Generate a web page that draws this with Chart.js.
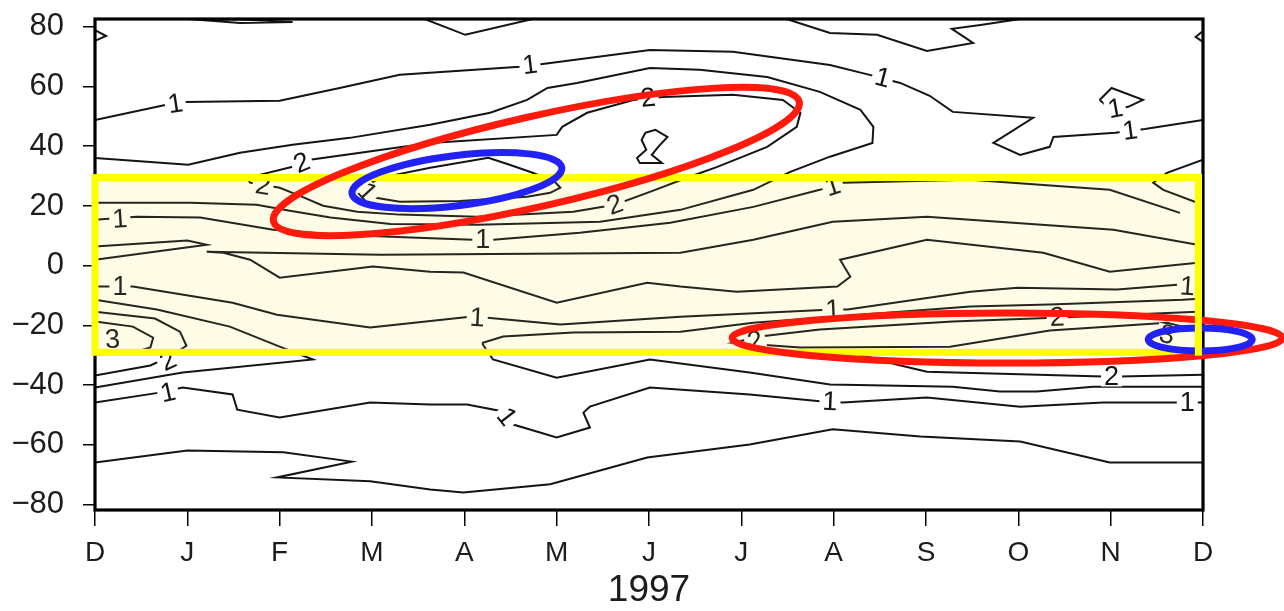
<!DOCTYPE html>
<html>
<head>
<meta charset="utf-8">
<script src="https://cdn.jsdelivr.net/npm/chart.js@4.4.1/dist/chart.umd.min.js"></script>
<style>
  html, body { margin: 0; background: #fff; }
  canvas { display: block; }
</style>
</head>
<body>
<canvas id="c" width="1284" height="611"></canvas>
<script>
// Zonal-mean contour section, Dec 1996 – Dec 1997, with tropical band and highlighted features

const MONTHS  = ['D', 'J', 'F', 'M', 'A', 'M', 'J', 'J', 'A', 'S', 'O', 'N', 'D'];
const X_TICKS = [0, 1, 2, 3, 4, 5, 6, 7, 8, 9, 10, 11, 12];
const Y_TICKS = [-80, -60, -40, -20, 0, 20, 40, 60, 80];
const X_TITLE = '1997';

// contour polylines: [month, latitude]
const edgeTop    = [[1.01,82.6],[1.57,81.3],[2.14,81.6],[1.57,82.4],[1.01,82.6]];
const notchW     = [[0,78.9],[0.12,76.9],[0,75.3]];
const topDip     = [[3.57,82.6],[4.01,77.3],[4.74,82.6]];
const topRight   = [[7.49,82.6],[7.96,77.9],[8.47,77.3],[9.01,71.9],[9.51,74.6],[9.28,79.3],[9.59,80.6],[10.02,82.6]];
const notchE     = [[12,78.6],[11.92,76.6],[12,74.9]];
const north1     = [[0,48.8],[0.76,53.8],[0.97,54.8],[2.00,55.2],[2.65,59.5],[3.30,63.9],[4.60,66.6],[4.87,67.6],
                    [6.01,72.2],[6.91,71.6],[7.96,67.2],[8.39,63.9],[8.72,61.2],[9.04,56.9],[9.29,51.5],[10.16,49.5],
                    [9.73,41.1],[10.02,37.1],[10.34,39.8],[10.38,43.1],[11.05,44.5],[11.37,45.8],[12,48.8]];
const northIsle  = [[10.88,55.5],[11.01,59.5],[11.35,55.5],[11.19,53.2],[11.01,52.2],[10.88,55.5]];
const northHook  = [[12,35.5],[11.61,31.1],[11.46,27.8],[11.57,25.4],[11.91,21.4],[12,21.0]];
const northRim   = [[0,36.1],[1.01,33.8],[1.57,37.8],[2.14,40.5],[2.76,42.8],[3.63,47.2],[4.28,51.2],[4.68,55.5],
                    [4.90,59.5],[5.22,61.2],[6.01,66.2],[6.55,65.6],[7.28,63.2],[7.85,58.2],[8.29,52.2],[8.43,46.5],
                    [8.42,41.1],[7.96,36.5],[7.53,31.4],[7.13,25.4],[6.34,18.7],[5.47,14.7],[4.14,13.7],[3.20,14.0],
                    [2.55,16.1],[2.11,18.4],[1.75,20.4],[1.03,21.1],[0,21.1]];
const north2     = [[1.65,29.4],[2.14,33.1],[2.33,35.5],[3.63,41.1],[5.00,43.8],[5.06,46.5],[5.33,51.2],[5.83,55.5],
                    [6.15,56.5],[6.91,57.2],[7.45,55.5],[7.64,51.2],[7.60,46.5],[7.28,39.8],[6.74,33.1],[6.44,29.8],
                    [6.01,24.7],[5.63,20.4],[5.18,18.1],[4.14,16.4],[3.30,17.1],[2.84,18.1],[2.47,20.1],[2.22,23.4],
                    [2.00,26.1],[1.68,27.8],[1.65,29.4]];
const northCore  = [[2.89,26.1],[3.09,29.4],[3.63,32.8],[4.26,36.1],[4.49,33.8],[4.74,31.1],[4.98,28.1],[5.04,26.1],
                    [4.93,24.4],[4.68,23.1],[3.95,21.7],[3.30,21.4],[2.98,23.1],[2.89,26.1]];
const hourglass  = [[5.96,44.5],[6.07,45.5],[6.20,43.1],[6.10,39.8],[6.03,37.1],[6.14,34.4],[5.90,34.4],[5.87,36.1],
                    [5.97,38.8],[5.92,42.1],[5.96,44.5]];
const band1N     = [[0,15.4],[0.45,16.4],[1.14,16.1],[1.93,12.0],[2.65,10.4],[3.20,9.7],[4.09,8.7],[4.31,8.7],
                    [5.25,11.0],[6.23,14.4],[7.13,19.7],[7.85,25.4],[8.10,27.8],[9.48,28.8],[10.99,25.4],[11.75,17.7]];
const wedgeW     = [[0,6.4],[1.00,8.4],[1.21,7.0],[0,2.0]];
const tongue     = [[12,6.7],[11.94,7.0],[11.03,12.0],[9.01,16.4],[7.99,14.7],[7.13,8.7],[6.34,4.3],[3.09,3.7],
                    [1.21,4.7],[1.39,4.3],[1.68,2.0],[2.00,-4.0],[3.01,-0.3],[3.63,-2.0],[3.99,-2.3],[5.00,-12.4],
                    [5.98,-5.7],[6.34,-7.0],[6.95,-8.7],[8.04,-7.0],[8.18,-3.7],[8.07,2.0],[9.01,8.7],[10.27,4.3],
                    [10.99,-2.0],[11.94,1.0],[12,1.3]];
const band1S     = [[0,-7.0],[0.41,-7.0],[1.49,-12.4],[1.97,-16.4],[2.98,-20.7],[4.06,-17.1],[4.25,-17.4],[5.04,-19.7],
                    [6.34,-17.1],[7.99,-14.7],[8.15,-14.7],[9.48,-8.7],[9.99,-7.4],[11.07,-8.0],[11.72,-6.4],[12,-7.0]];
const core3      = [[0,-18.7],[0.41,-20.4],[0.63,-24.1],[0.60,-27.4],[0.41,-29.1],[0,-29.8]];
const core2      = [[0,-15.4],[0.65,-17.7],[0.92,-22.1],[0.99,-26.8],[0.83,-30.1],[0.60,-33.4],[0,-36.8]];
const wedgeS     = [[0,-11.4],[0.67,-14.7],[1.46,-20.4],[2.00,-27.1],[2.36,-31.4],[0.95,-35.8],[0,-40.8]];
const stepLoop   = [[12,-11.0],[11.78,-11.4],[10.34,-13.0],[9.48,-13.7],[7.13,-19.1],[6.34,-22.1],[5.18,-22.4],[4.42,-23.7],
                    [4.20,-25.8],[4.20,-26.4],[4.31,-31.4],[5.00,-37.5],[6.01,-31.4],[7.09,-35.8],[7.96,-39.8],[9.29,-40.5],
                    [9.80,-42.1],[10.20,-42.1],[10.81,-40.5],[12,-40.5]];
const south2     = [[12,-15.4],[11.94,-15.4],[10.38,-17.4],[9.29,-18.7],[7.85,-21.4],[7.20,-23.7],[6.91,-25.8],
                    [7.64,-27.4],[9.26,-27.1],[10.34,-21.7],[11.61,-19.1],[11.78,-20.4],[12,-21.4]];
const south2b    = [[8.29,-29.8],[8.68,-33.1],[9.01,-35.5],[10.92,-37.1],[11.10,-37.1],[12,-36.5]];
const south1     = [[0,-45.8],[0.70,-42.5],[0.95,-40.8],[1.49,-43.1],[1.54,-48.2],[2.00,-50.8],[2.98,-45.8],[3.63,-46.5],
                    [4.03,-46.5],[4.42,-48.8],[4.53,-53.2],[5.00,-57.5],[5.36,-54.2],[5.29,-49.2],[5.36,-47.2],[6.01,-40.8],
                    [7.09,-43.1],[7.88,-45.5],[8.10,-45.8],[9.01,-44.1],[10.02,-47.2],[10.92,-45.8],[12,-45.8]];
const southEdge  = [[0,-65.9],[1.00,-61.9],[2.04,-62.5],[2.78,-65.6],[1.97,-70.9],[2.98,-72.2],[3.63,-74.9],[3.99,-75.9],
                    [4.93,-73.2],[5.98,-64.2],[7.09,-59.9],[7.99,-54.8],[8.94,-57.2],[10.02,-58.9],[10.99,-65.9],[12,-65.9]];

const CONTOURS = [edgeTop, notchW, topDip, topRight, notchE, north1, northIsle, northHook, northRim, north2,
                  northCore, hourglass, band1N, wedgeW, tongue, band1S, core3, core2, wedgeS, stepLoop,
                  south2, south2b, south1, southEdge];

// contour labels: [month, latitude, text]
const LABELS = [
  [0.87,54.2,'1'], [4.71,67.2,'1'], [8.53,62.9,'1'], [11.21,45.2,'1'], [11.05,52.6,'1'],
  [2.24,34.4,'2'], [1.82,26.8,'2'], [5.99,56.2,'2'], [5.63,20.4,'2'], [2.95,24.7,'1'],
  [0.27,15.6,'1'], [4.20,8.6,'1'], [7.99,26.6,'1'],
  [0.27,-7.0,'1'], [4.14,-17.4,'1'], [7.99,-14.7,'1'], [11.83,-6.9,'1'],
  [10.42,-17.3,'2'], [7.15,-25.2,'2'], [11.61,-23.1,'3'],
  [0.19,-24.7,'3'], [0.79,-31.8,'2'],
  [0.79,-42.5,'1'], [4.46,-50.6,'1'], [7.96,-45.5,'1'], [11.83,-45.8,'1'], [11.01,-37.1,'2']
];

// tropical band [from, to]
const BAND_X = [0, 11.95];
const BAND_Y = [-29, 29.5];

// highlight rings: [month, latitude, half-width (months), half-height (deg), tilt (deg)]
const RED_RINGS  = [[4.78, 34.9, 2.92, 15.1, -12.8], [9.88, -24.2, 2.98, 8.4, 0]];
const BLUE_RINGS = [[3.92, 28.5, 1.145, 8.4, -7], [11.97, -24.7, 0.563, 3.85, 0]];

const FONT = '"Liberation Sans", Arial, Helvetica, sans-serif';
const BAND_FILL = '#fefdec';

function nearestAngle(px, py, lines) {
  let best = Infinity, ang = 0;
  lines.forEach(pts => {
    for (let i = 1; i < pts.length; i++) {
      const [ax, ay] = pts[i - 1], [bx, by] = pts[i];
      const dx = bx - ax, dy = by - ay, L = dx * dx + dy * dy || 1;
      const t = Math.max(0, Math.min(1, ((px - ax) * dx + (py - ay) * dy) / L));
      const d = Math.hypot(ax + t * dx - px, ay + t * dy - py);
      if (d < best) { best = d; ang = Math.atan2(dy, dx); }
    }
  });
  if (ang > Math.PI / 2) ang -= Math.PI;
  if (ang < -Math.PI / 2) ang += Math.PI;
  return ang;
}

function ring(ctx, x, y, r, color) {
  const [cx, cy, rx, ry, tilt] = r;
  const px = x.getPixelForValue(cx), py = y.getPixelForValue(cy);
  const a = Math.abs(x.getPixelForValue(cx + rx) - px);
  const b = Math.abs(y.getPixelForValue(cy + ry) - py);
  ctx.beginPath();
  ctx.ellipse(px, py, a, b, tilt * Math.PI / 180, 0, Math.PI * 2);
  ctx.strokeStyle = color;
  ctx.lineWidth = 7;
  ctx.stroke();
}

function bandBox(x, y) {
  const x0 = x.getPixelForValue(BAND_X[0]), x1 = x.getPixelForValue(BAND_X[1]);
  const y0 = y.getPixelForValue(BAND_Y[1]), y1 = y.getPixelForValue(BAND_Y[0]);
  return { x0, x1, y0, y1 };
}

const decor = {
  id: 'decor',
  beforeDraw(c) {
    c.ctx.save();
    c.ctx.fillStyle = '#fff';
    c.ctx.fillRect(0, 0, c.width, c.height);
    c.ctx.restore();
  },
  beforeDatasetsDraw(c) {
    const { ctx, scales: { x, y } } = c;
    const b = bandBox(x, y);
    ctx.save();
    ctx.fillStyle = BAND_FILL;
    ctx.fillRect(b.x0, b.y0, b.x1 - b.x0, b.y1 - b.y0);
    ctx.restore();
  },
  afterDatasetsDraw(c) {
    const { ctx, chartArea: a, scales: { x, y } } = c;
    const b = bandBox(x, y);
    const pix = CONTOURS.map(l => l.map(([u, v]) => [x.getPixelForValue(u), y.getPixelForValue(v)]));

    // labels sit in a small gap cut out of the line
    ctx.save();
    ctx.font = '27px ' + FONT;
    ctx.textAlign = 'center';
    ctx.textBaseline = 'middle';
    LABELS.forEach(([u, v, t]) => {
      const px = x.getPixelForValue(u), py = y.getPixelForValue(v);
      const ang = nearestAngle(px, py, pix);
      const w = ctx.measureText(t).width + 6;
      const inBand = py > b.y0 && py < b.y1;
      ctx.save();
      ctx.translate(px, py);
      ctx.rotate(ang);
      ctx.fillStyle = inBand ? BAND_FILL : '#fff';
      ctx.fillRect(-w / 2, -10, w, 20);
      ctx.fillStyle = '#151515';
      ctx.fillText(t, 0, 1);
      ctx.restore();
    });
    ctx.restore();

    // frame
    ctx.save();
    ctx.strokeStyle = '#000';
    ctx.lineWidth = 3.2;
    ctx.strokeRect(a.left, a.top, a.right - a.left, a.bottom - a.top);
    ctx.restore();

    // tropical band: faint tint over the lines, then the outline
    ctx.save();
    ctx.fillStyle = 'rgba(250,245,170,0.08)';
    ctx.fillRect(b.x0, b.y0, b.x1 - b.x0, b.y1 - b.y0);
    ctx.strokeStyle = '#ffff00';
    ctx.lineWidth = 7;
    ctx.strokeRect(b.x0, b.y0, b.x1 - b.x0, b.y1 - b.y0);

    RED_RINGS.forEach(r => ring(ctx, x, y, r, '#ff1a0c'));
    BLUE_RINGS.forEach(r => ring(ctx, x, y, r, '#2222f6'));

    // right side of the band runs over the rings
    ctx.beginPath();
    ctx.moveTo(b.x1, b.y0 - 3.5);
    ctx.lineTo(b.x1, b.y1 + 3.5);
    ctx.strokeStyle = '#ffff00';
    ctx.lineWidth = 7;
    ctx.stroke();
    ctx.restore();
  }
};

new Chart(document.getElementById('c'), {
  type: 'line',
  data: {
    datasets: CONTOURS.map(l => ({
      data: l.map(([u, v]) => ({ x: u, y: v })),
      borderColor: '#141414',
      borderWidth: 2,
      pointRadius: 0,
      fill: false,
      tension: 0
    }))
  },
  options: {
    responsive: false,
    animation: false,
    events: [],
    layout: { padding: { top: 19, right: 81, left: 0, bottom: 0 } },
    plugins: { legend: { display: false }, tooltip: { enabled: false } },
    scales: {
      x: {
        type: 'linear',
        min: 0,
        max: 12,
        afterBuildTicks: s => { s.ticks = X_TICKS.map(v => ({ value: v })); },
        afterFit: s => { s.height = 101; s.paddingLeft = 0; s.paddingRight = 0; },
        border: { display: false },
        grid: { drawOnChartArea: false, drawTicks: true, tickLength: 16, color: '#000', lineWidth: 1.5 },
        ticks: {
          callback: v => MONTHS[v],
          autoSkip: false,
          maxRotation: 0,
          padding: 10,
          color: '#1c1c1c',
          font: { family: FONT, size: 28 }
        },
        title: {
          display: true,
          text: X_TITLE,
          color: '#1c1c1c',
          font: { family: FONT, size: 37, lineHeight: 1 },
          padding: { top: 0, bottom: 2 }
        }
      },
      y: {
        min: -81.8,
        max: 82.6,
        afterBuildTicks: s => { s.ticks = Y_TICKS.map(v => ({ value: v })); },
        afterFit: s => { s.width = 95; s.paddingTop = 0; s.paddingBottom = 0; },
        border: { display: false },
        grid: { drawOnChartArea: false, drawTicks: true, tickLength: 12, color: '#000', lineWidth: 1.5 },
        ticks: {
          callback: v => (v < 0 ? '\u2212' + Math.abs(v) : String(v)),
          padding: 19,
          color: '#1c1c1c',
          font: { family: FONT, size: 31 }
        }
      }
    }
  },
  plugins: [decor]
});
</script>
</body>
</html>
